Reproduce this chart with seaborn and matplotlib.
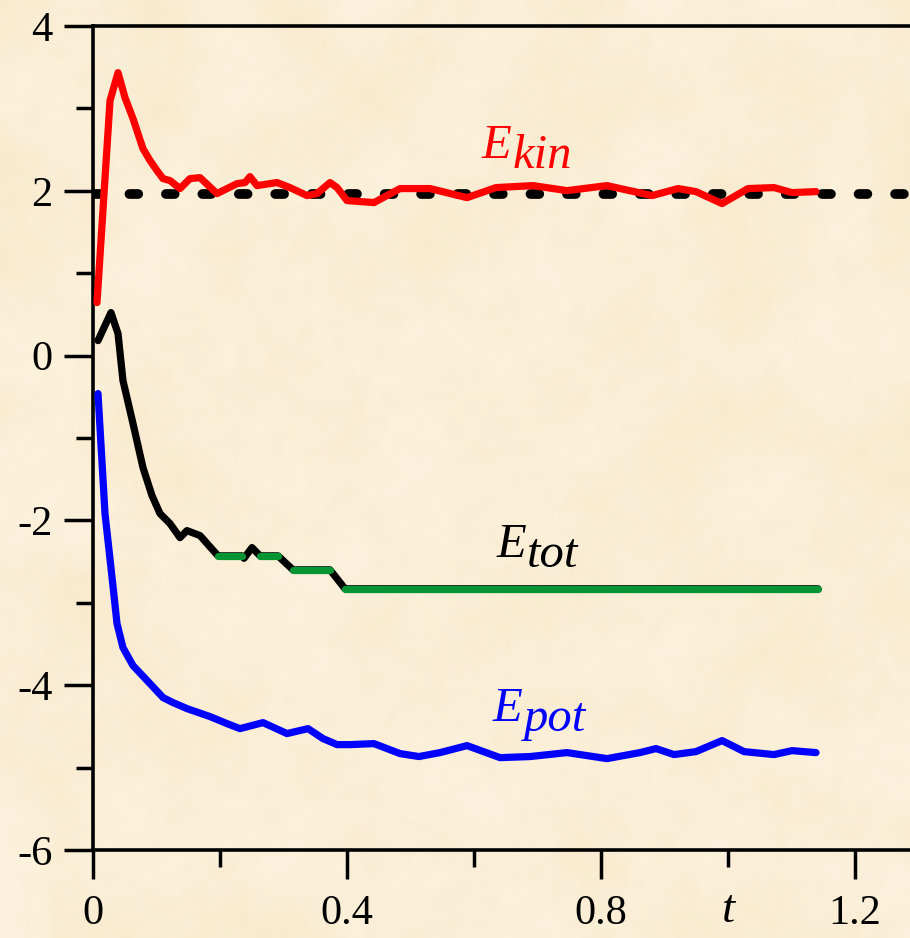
import numpy as np
import pandas as pd
import matplotlib
matplotlib.use("Agg")
import matplotlib.pyplot as plt
from matplotlib.colors import LinearSegmentedColormap
import seaborn as sns

# ---- energies of the relaxing system versus time ----
t_kin = [0.0063, 0.0268, 0.0394, 0.0504, 0.0630, 0.0787, 0.0898, 0.1008, 0.1102,
         0.1213, 0.1370, 0.1528, 0.1685, 0.1953, 0.2268, 0.2394, 0.2472, 0.2583,
         0.2898, 0.3102, 0.3370, 0.3528, 0.3732, 0.3843, 0.4000, 0.4425, 0.4835,
         0.5307, 0.5890, 0.6346, 0.6929, 0.7465, 0.8094, 0.8803, 0.9213, 0.9496,
         0.9906, 1.0315, 1.0724, 1.1008, 1.1386]
e_kin = [0.643, 3.095, 3.434, 3.131, 2.876, 2.512, 2.367, 2.245, 2.148,
         2.124, 2.027, 2.148, 2.160, 1.966, 2.087, 2.100, 2.172, 2.063,
         2.100, 2.039, 1.942, 1.966, 2.100, 2.039, 1.881, 1.857, 2.027,
         2.027, 1.917, 2.039, 2.063, 2.002, 2.063, 1.942, 2.027, 1.990,
         1.845, 2.027, 2.039, 1.978, 1.990]

t_tot = [0.0079, 0.0283, 0.0394, 0.0472, 0.0630, 0.0787, 0.0929, 0.1055, 0.1213,
         0.1370, 0.1480, 0.1685, 0.1969, 0.2346, 0.2378, 0.2504, 0.2630, 0.2913,
         0.3150, 0.3732, 0.3969, 1.1417]
e_tot = [0.182, 0.522, 0.267, -0.303, -0.825, -1.359, -1.699, -1.917, -2.039,
         -2.209, -2.124, -2.184, -2.43, -2.43, -2.46, -2.33, -2.43, -2.43,
         -2.60, -2.60, -2.83, -2.83]

t_pot = [0.0079, 0.0189, 0.0315, 0.0378, 0.0472, 0.0630, 0.0898, 0.1102, 0.1260,
         0.1480, 0.1843, 0.2110, 0.2315, 0.2677, 0.3055, 0.3386, 0.3622, 0.3843,
         0.4047, 0.4425, 0.4835, 0.5134, 0.5465, 0.5890, 0.6409, 0.6882, 0.7465,
         0.8094, 0.8614, 0.8866, 0.9150, 0.9496, 0.9906, 1.0252, 1.0724, 1.1008,
         1.1386]
e_pot = [-0.461, -1.917, -2.800, -3.252, -3.544, -3.762, -3.981, -4.150, -4.211,
         -4.284, -4.381, -4.466, -4.527, -4.454, -4.587, -4.527, -4.648, -4.721,
         -4.721, -4.709, -4.830, -4.866, -4.818, -4.733, -4.879, -4.866, -4.818,
         -4.891, -4.818, -4.769, -4.842, -4.806, -4.672, -4.806, -4.842, -4.794,
         -4.818]

# equilibrium kinetic energy level
e_ref = 1.96

x_ticks = [0, 0.4, 0.8, 1.2]
x_tick_labels = ["0", "0.4", "0.8", "1.2"]
x_minor = [0.2, 0.6, 1.0]
y_ticks = [-6, -4, -2, 0, 2, 4]
y_tick_labels = ["-6", "-4", "-2", "0", "2", "4"]
y_minor = [-5, -3, -1, 1, 3]

# ---- style ----
sns.set_theme(style="ticks")
plt.rcParams["font.family"] = ["Liberation Serif", "DejaVu Serif"]
plt.rcParams["axes.unicode_minus"] = False

W, H = 910, 938
fig = plt.figure(figsize=(W / 100, H / 100), dpi=100)
fig.patch.set_facecolor("#FBEFD7")

# parchment backdrop: soft, faint mottling in two scales
paper = LinearSegmentedColormap.from_list("paper", ["#F5E6C6", "#FBEFD7", "#FFF6E6"])
rng = np.random.default_rng(11)
bg = fig.add_axes([0, 0, 1, 1], zorder=-5)
bg.imshow(rng.random((22, 22)), cmap=paper, aspect="auto", interpolation="bicubic",
          extent=[0, 1, 0, 1], vmin=-0.1, vmax=1.1)
bg.imshow(rng.random((110, 110)), cmap=paper, aspect="auto", interpolation="bicubic",
          extent=[0, 1, 0, 1], vmin=-0.2, vmax=1.2, alpha=0.35)
bg.set_xlim(0, 1)
bg.set_ylim(0, 1)
bg.set_axis_off()

left, bottom = 93 / W, 88 / H
ax = fig.add_axes([left, bottom, (W - 93) / W, 824 / H])
ax.set_facecolor("none")

lw = 5.2
# dashed reference level
ax.axhline(e_ref, color="black", lw=7.0, linestyle=(0, (0.9, 2.85)),
           dash_capstyle="round", zorder=2)

kin = pd.DataFrame({"t": t_kin, "E": e_kin})
tot = pd.DataFrame({"t": t_tot, "E": e_tot})
pot = pd.DataFrame({"t": t_pot, "E": e_pot})

line_kw = dict(estimator=None, sort=False, legend=False, linewidth=lw,
               solid_capstyle="round", solid_joinstyle="round")
sns.lineplot(data=kin, x="t", y="E", color="#FF0000", ax=ax, zorder=3, **line_kw)
sns.lineplot(data=tot, x="t", y="E", color="black", ax=ax, zorder=3, **line_kw)
sns.lineplot(data=pot, x="t", y="E", color="#0000FF", ax=ax, zorder=3, **line_kw)

# plateaus of the total energy highlighted in green
vals = tot["E"].to_numpy()
for i in range(len(vals) - 1):
    if vals[i] == vals[i + 1]:
        seg = tot.iloc[i:i + 2]
        sns.lineplot(data=seg, x="t", y="E", color="#079433", ax=ax, zorder=4, **line_kw)

ax.set_xlim(0, (W - 93) / 635)
ax.set_ylim(-6, 4)
ax.set_xlabel("")
ax.set_ylabel("")

ax.set_xticks(x_ticks)
ax.set_xticklabels(x_tick_labels)
ax.set_xticks(x_minor, minor=True)
ax.set_yticks(y_ticks)
ax.set_yticklabels(y_tick_labels)
ax.set_yticks(y_minor, minor=True)

for s in ["left", "bottom", "top"]:
    ax.spines[s].set_linewidth(2.6)
    ax.spines[s].set_color("black")
ax.spines["right"].set_visible(False)

ax.tick_params(which="major", direction="out", length=21, width=2.5,
               color="black", labelsize=30.5, labelcolor="black")
ax.tick_params(axis="y", which="major", pad=8)
ax.tick_params(axis="x", which="major", pad=11)
ax.tick_params(which="minor", direction="out", length=12, width=2.5, color="black")
ax.tick_params(top=False, right=False, which="both")


def energy_label(x, y, sub, color):
    e = ax.text(x, y, "E", color=color, fontsize=35, family="Liberation Serif",
                fontstyle="italic", ha="left", va="baseline", zorder=5)
    ax.annotate(sub, xy=(1, 0), xycoords=e, xytext=(0.5, 0),
                textcoords="offset points", fontsize=35, family="Liberation Serif",
                fontstyle="italic", color=color, ha="left", va="baseline", zorder=5)


energy_label(0.6126, 2.40, "kin", "#FF0000")
energy_label(0.636, -2.45, "tot", "black")
energy_label(0.630, -4.43, "pot", "#0000FF")

ax.text(1.0, -0.0874, "t", transform=ax.get_xaxis_transform(), fontsize=34,
        family="Liberation Serif", fontstyle="italic", ha="center", va="baseline",
        color="black")

fig.savefig("out.png", dpi=100, facecolor=fig.get_facecolor())
